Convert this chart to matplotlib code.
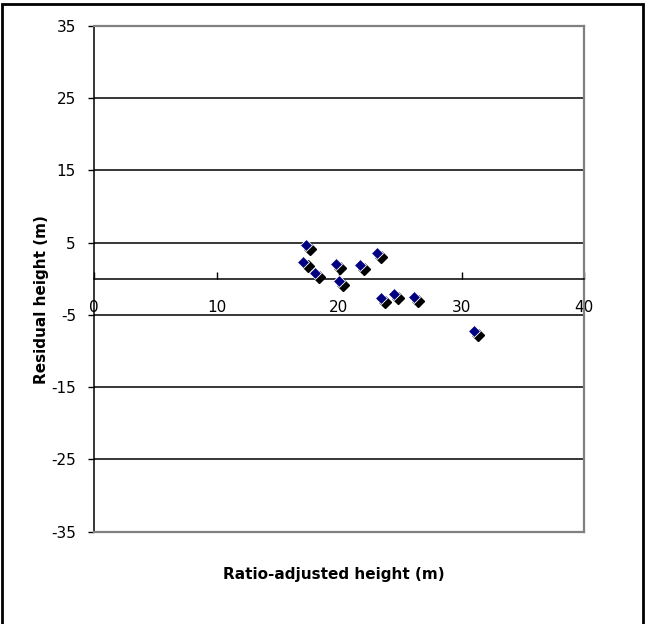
import numpy as np
import matplotlib.pyplot as plt
from matplotlib import transforms
from matplotlib.patches import Rectangle

# ratio-adjusted height vs residual, metres
adj_height = [17.3, 17.1, 18.0, 19.75, 20.0, 21.7, 23.1, 23.4, 24.5, 26.1, 31.0]
residual   = [4.65, 2.35, 0.75, 2.0, -0.3, 1.9, 3.6, -2.7, -2.1, -2.5, -7.2]

xticks = [0, 10, 20, 30, 40]
yticks = [-35, -25, -15, -5, 5, 15, 25, 35]

plt.rcParams['font.family'] = 'DejaVu Sans'
plt.rcParams['axes.unicode_minus'] = False

fig = plt.figure(figsize=(6.45, 6.24), dpi=100)
ax = fig.add_axes([94/645, 92.3/624, 490/645, 506/624])

ax.set_xlim(0, 40)
ax.set_ylim(-35, 35)

# horizontal gridlines
for v in yticks[1:-1]:
    ax.axhline(v, color='black', lw=1.1, zorder=1)

# plot area frame
for s in ['top', 'right']:
    ax.spines[s].set_color('#808080')
    ax.spines[s].set_linewidth(1.6)
ax.spines['left'].set_color('black')
ax.spines['left'].set_linewidth(1.1)
ax.spines['bottom'].set_position(('data', 0))
ax.spines['bottom'].set_color('black')
ax.spines['bottom'].set_linewidth(1.1)
ax.plot([0, 40], [-35, -35], color='#808080', lw=1.6, clip_on=False, zorder=3)

ax.set_xticks(xticks)
ax.set_yticks(yticks)
ax.tick_params(axis='y', direction='out', length=4, width=1, labelsize=11, pad=9)
ax.tick_params(axis='x', direction='in', length=5, width=1, labelsize=11, pad=15)

# shadowed diamond markers
shadow = transforms.offset_copy(ax.transData, fig=fig, x=3, y=-3, units='points')
ax.plot(adj_height, residual, 'D', ms=6.3, color='black', mec='black',
        transform=shadow, zorder=4, clip_on=False)
ax.plot(adj_height, residual, 'D', ms=6.3, color='#000080', mec='white',
        mew=0.6, zorder=5, clip_on=False)

fig.text(42/645, 1 - 300/624, 'Residual height (m)', rotation=90,
         ha='center', va='center', fontsize=11, fontweight='bold')
fig.text(334/645, 1 - 574/624, 'Ratio-adjusted height (m)',
         ha='center', va='center', fontsize=11, fontweight='bold')

# outer chart border
fig.patches.append(Rectangle((2/645, -0.05), 641/645, 1.05 - 4/624,
                             transform=fig.transFigure, fill=False,
                             ec='black', lw=2))

fig.savefig('out.png', dpi=100)
